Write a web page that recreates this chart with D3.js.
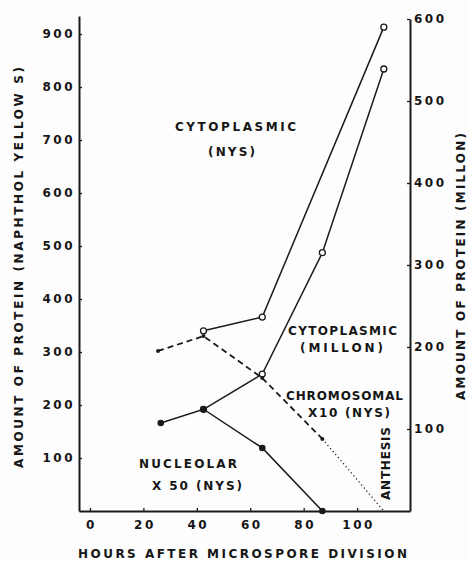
<!DOCTYPE html>
<html>
<head>
<meta charset="utf-8">
<script src="https://cdn.jsdelivr.net/npm/d3@7"></script>
<style>
  html, body { margin: 0; padding: 0; background: #fdfdfd; }
  svg { display: block; }
  text { font-family: "DejaVu Sans", sans-serif; font-weight: bold; fill: #161616; }
</style>
</head>
<body>
<svg id="chart" width="469" height="561"></svg>
<script>
// ---- data ----
const xTicks = [0, 20, 40, 60, 80, 100];
const leftTicks = [100, 200, 300, 400, 500, 600, 700, 800, 900];
const rightTicks = [100, 200, 300, 400, 500, 600];

const hoursCytoNYS = [42.5, 64.5, 110];
const cytoNYS = [340, 366, 913];

const hoursCytoMillon = [42.5, 64.5, 87, 110];
const cytoMillon = [124, 167, 315, 539];

const hoursNucleolar = [26.5, 42.5, 64.5, 87];
const nucleolar = [166, 192, 119, 0];

const hoursChrom = [25.5, 42.5, 64.5, 87];
const chromosomal = [302, 330, 251, 136];

const hoursChromExtrap = [87, 110];
const chromExtrap = [136, 0];

// ---- layout ----
const svg = d3.select("#chart");
const ink = "#1a1a1a";

const x = d3.scaleLinear().domain([-4.1, 119.8]).range([79, 410]);
const yL = d3.scaleLinear().domain([0, 934]).range([511, 16]);
const yR = d3.scaleLinear().domain([0, 600]).range([511, 19]);

// axes
const gL = svg.append("g").attr("transform", "translate(79,0)")
  .call(d3.axisLeft(yL).tickValues(leftTicks).tickSizeInner(-3).tickSizeOuter(0).tickPadding(4));
const gR = svg.append("g").attr("transform", "translate(410,0)")
  .call(d3.axisRight(yR).tickValues(rightTicks).tickSizeInner(-3).tickSizeOuter(0).tickPadding(4));
const gB = svg.append("g").attr("transform", "translate(0,511)")
  .call(d3.axisBottom(x).tickValues(xTicks).tickSizeInner(-3).tickSizeOuter(0).tickPadding(9));

[gL, gR, gB].forEach(g => {
  g.select(".domain").attr("stroke", ink).attr("stroke-width", 2);
  g.selectAll(".tick line").attr("stroke", ink).attr("stroke-width", 1.3);
  g.selectAll(".tick text")
    .attr("font-family", "DejaVu Sans, sans-serif")
    .attr("font-weight", "bold")
    .attr("font-size", 12)
    .attr("letter-spacing", 2.5)
    .attr("fill", "#161616");
});
gB.selectAll(".tick text").attr("dx", 1);

// lines
const mk = (xs, ys, yScale) => xs.map((h, i) => [x(h), yScale(ys[i])]);
const line = d3.line();

function path(pts, dash, width) {
  svg.append("path").attr("d", line(pts)).attr("fill", "none")
    .attr("stroke", ink).attr("stroke-width", width || 1.5)
    .attr("stroke-dasharray", dash || null);
}

const ptsChrom = mk(hoursChrom, chromosomal, yL);
const ptsChromEx = mk(hoursChromExtrap, chromExtrap, yL);
const ptsNuc = mk(hoursNucleolar, nucleolar, yL);
const ptsMil = mk(hoursCytoMillon, cytoMillon, yR);
const ptsNYS = mk(hoursCytoNYS, cytoNYS, yL);

path(ptsChrom, "6,4", 1.8);
path(ptsChromEx, "1.2,2.8", 1.3);
path(ptsNuc, null, 1.5);
path(ptsMil, null, 1.5);
path(ptsNYS, null, 1.5);

// markers
function dots(pts, r) {
  svg.append("g").selectAll("circle").data(pts).join("circle")
    .attr("cx", d => d[0]).attr("cy", d => d[1]).attr("r", r).attr("fill", ink);
}
function rings(pts, r) {
  svg.append("g").selectAll("circle").data(pts).join("circle")
    .attr("cx", d => d[0]).attr("cy", d => d[1]).attr("r", r)
    .attr("fill", "#fdfdfd").attr("stroke", ink).attr("stroke-width", 1.3);
}
rings(ptsNYS, 3);
rings(ptsMil, 3);
dots(ptsChrom, 2);
dots(ptsNuc, 3.3);

// labels
function label(txt, x0, yb, len, opts) {
  opts = opts || {};
  const t = svg.append("text").attr("x", x0).attr("y", yb)
    .attr("font-size", opts.size || 12)
    .attr("textLength", len).attr("lengthAdjust", "spacing")
    .text(txt);
  if (opts.rotate) t.attr("transform", `rotate(${opts.rotate},${x0},${yb})`);
  return t;
}
label("CYTOPLASMIC", 175, 131, 121);
label("(NYS)", 208, 156, 47);
label("CYTOPLASMIC", 288, 335, 109);
label("(MILLON)", 300, 352, 83);
label("CHROMOSOMAL", 286, 400, 117);
label("X10 (NYS)", 308, 417, 82);
label("NUCLEOLAR", 139, 468, 98);
label("X 50 (NYS)", 152, 490, 90);
label("ANTHESIS", 390, 500, 73, {rotate: -90});

// axis titles
label("HOURS AFTER MICROSPORE DIVISION", 78, 558, 329);
label("AMOUNT OF PROTEIN (NAPHTHOL YELLOW S)", 23, 468, 401, {rotate: -90});
label("AMOUNT OF PROTEIN (MILLON)", 465, 400, 267, {rotate: -90});
</script>
</body>
</html>
